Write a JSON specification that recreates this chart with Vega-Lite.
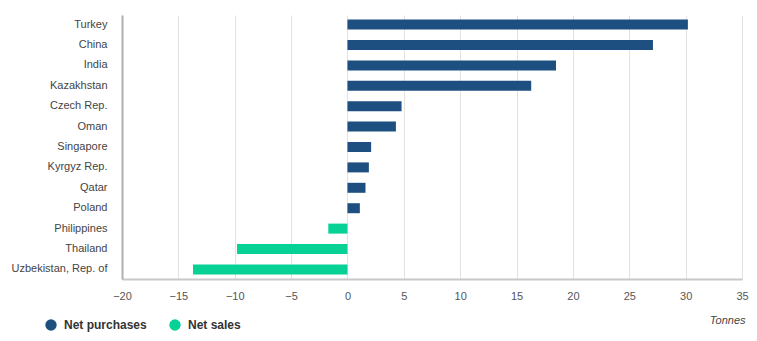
{
  "$schema": "https://vega.github.io/schema/vega-lite/v6.json",
  "width": 620,
  "height": 264,
  "autosize": {"type": "none"},
  "padding": {"left": 122, "top": 15, "right": 15, "bottom": 62},
  "background": "white",
  "data": {
    "values": [
      {"country": "Turkey", "tonnes": 30.2, "type": "Net purchases"},
      {"country": "China", "tonnes": 27.1, "type": "Net purchases"},
      {"country": "India", "tonnes": 18.5, "type": "Net purchases"},
      {"country": "Kazakhstan", "tonnes": 16.3, "type": "Net purchases"},
      {"country": "Czech Rep.", "tonnes": 4.8, "type": "Net purchases"},
      {"country": "Oman", "tonnes": 4.3, "type": "Net purchases"},
      {"country": "Singapore", "tonnes": 2.1, "type": "Net purchases"},
      {"country": "Kyrgyz Rep.", "tonnes": 1.9, "type": "Net purchases"},
      {"country": "Qatar", "tonnes": 1.6, "type": "Net purchases"},
      {"country": "Poland", "tonnes": 1.1, "type": "Net purchases"},
      {"country": "Philippines", "tonnes": -1.7, "type": "Net sales"},
      {"country": "Thailand", "tonnes": -9.8, "type": "Net sales"},
      {"country": "Uzbekistan, Rep. of", "tonnes": -13.7, "type": "Net sales"}
    ]
  },
  "mark": {"type": "bar", "height": 10},
  "encoding": {
    "y": {
      "field": "country",
      "type": "nominal",
      "sort": null,
      "scale": {"paddingInner": 0.5, "paddingOuter": 0.22},
      "axis": {
        "title": null,
        "ticks": false,
        "labelPadding": 15,
        "labelFont": "Liberation Sans",
        "labelFontSize": 11,
        "labelColor": "#444444",
        "domainColor": "#b0b0b0",
        "domainWidth": 2,
        "grid": false
      }
    },
    "x": {
      "field": "tonnes",
      "type": "quantitative",
      "scale": {"domain": [-20, 35], "nice": false},
      "axis": {
        "values": [-20, -15, -10, -5, 0, 5, 10, 15, 20, 25, 30, 35],
        "title": "Tonnes",
        "titleFont": "Liberation Sans",
        "titleFontSize": 11,
        "titleFontWeight": "normal",
        "titleFontStyle": "italic",
        "titleColor": "#444444",
        "titleAnchor": "end",
        "titleAlign": "right",
        "titleX": 623,
        "titleY": 35,
        "ticks": false,
        "labelFlush": false,
        "labelPadding": 11,
        "labelFont": "Liberation Sans",
        "labelFontSize": 11,
        "labelColor": "#555555",
        "domainColor": "#c8c8c8",
        "domainWidth": 2,
        "grid": true,
        "gridColor": "#e2e2e2",
        "gridWidth": 1
      }
    },
    "color": {
      "field": "type",
      "type": "nominal",
      "scale": {"domain": ["Net purchases", "Net sales"], "range": ["#1d5080", "#08d196"]},
      "legend": {
        "title": null,
        "orient": "none",
        "direction": "horizontal",
        "legendX": -77,
        "legendY": 304,
        "symbolType": "circle",
        "symbolSize": 130,
        "symbolStrokeWidth": 0,
        "labelFont": "Liberation Sans",
        "labelFontSize": 12,
        "labelFontWeight": "bold",
        "labelColor": "#333333",
        "columnPadding": 22,
        "labelOffset": 7
      }
    }
  },
  "config": {"view": {"stroke": null}}
}
